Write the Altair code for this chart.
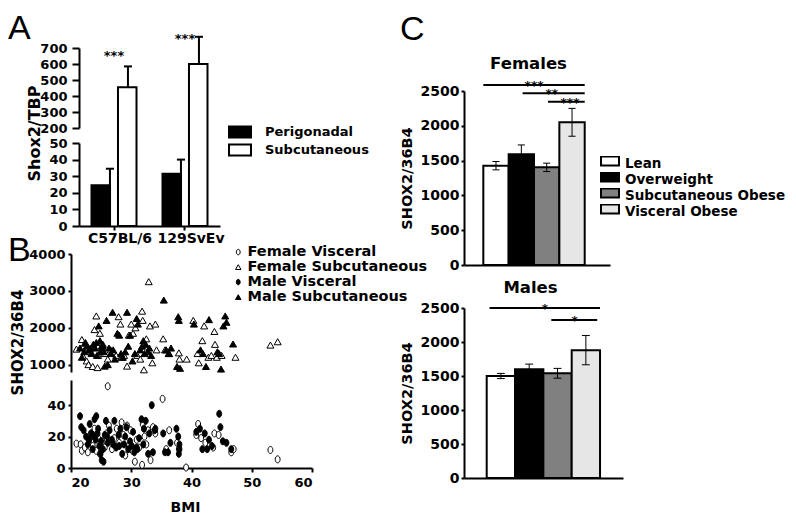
import altair as alt
import pandas as pd

W, H = 780, 509
FONT = "DejaVu Sans"

# ---------------- Panel A data ----------------
a_strains = ["C57BL/6", "129SvEv"]
a_tissues = ["Perigonadal", "Subcutaneous"]
a_perig_mean = [24.5, 31.5]
a_perig_hi = [34.5, 40.0]
a_subq_mean = [455, 600]
a_subq_hi = [585, 770]
a_star_y = [675, 781]
a_star_text = ["***", "***"]

# ---------------- Panel B data ----------------
b_series = ["Female Visceral", "Female Subcutaneous", "Male Visceral", "Male Subcutaneous"]

fv_bmi = [20.9, 21.6, 21.8, 22.3, 22.8, 23.0, 23.3, 23.6, 23.9, 24.2, 24.5, 24.8, 25.2, 25.6, 26.1,
          25.9, 26.3, 26.8, 27.2, 27.6, 28.0, 28.4, 28.7, 29.0, 29.3, 29.6, 29.9, 30.2, 30.6, 30.9,
          31.3, 31.8, 31.9, 32.2, 32.5, 32.8, 33.2, 33.6, 34.0, 35.2, 35.8, 36.3, 37.6, 37.9, 39.1,
          40.8, 41.1, 41.6, 42.3, 43.6, 43.8, 44.5, 46.6, 47.0, 53.1, 54.3]
fv_val = [15.5, 15, 11, 13, 10, 17, 22, 14, 25, 11, 19, 9, 17, 13, 52,
          22, 27, 12, 19, 25, 16, 29, 21, 8, 27, 14, 24, 11, 4, 18,
          13, 2, 28, 20, 15, 24, 5, 26, 22, 44, 12, 24, 16, 12, 0.3,
          21, 28, 19, 16, 13, 22, 21, 10, 12, 11.5, 5.5]

mv_bmi = [21.5, 21.7, 22.1, 22.5, 22.8, 23.1, 23.4, 23.6, 23.9, 24.2, 24.1, 24.5, 24.7, 24.9, 25.1,
          25.4, 25.6, 25.8, 26.1, 26.4, 26.8, 27.2, 27.5, 27.9, 28.2, 28.5, 28.8, 29.2, 29.5, 29.8,
          30.1, 30.5, 30.9, 31.3, 31.7, 32.1, 32.4, 32.8, 33.4, 33.6, 33.9, 35.3, 35.6, 36.1, 36.5,
          37.5, 37.8, 37.9, 38.0, 40.8, 41.4, 41.8, 42.2, 42.6, 42.9, 43.4, 44.6, 44.8, 45.2, 45.8,
          46.6, 23.0, 23.8, 24.4, 25.0, 25.3, 26.0, 27.0, 28.0, 29.0, 30.3, 31.0, 32.0, 33.0, 34.0, 38.0]
mv_val = [33, 26, 24, 20, 15, 28, 22, 12, 31, 33, 18, 25, 14, 9, 5,
          4, 21, 30, 16, 24, 18, 30, 13, 21, 25, 9, 15, 26, 12, 17,
          14, 10, 13, 19, 31, 25, 30, 9, 40, 10, 24, 22, 10, 10, 16,
          25, 20, 9, 12, 23, 25, 12, 22, 12, 18, 14, 34.5, 26, 17, 16,
          12, 18, 20, 22, 17, 12, 20, 15, 14, 20, 23, 12, 15, 22, 25, 15]

fs_bmi = [20.9, 21.8, 22.0, 22.3, 22.6, 22.9, 23.3, 23.6, 23.9, 24.2, 24.5, 24.4, 24.8, 25.2, 25.6,
          26.1, 26.6, 27.0, 27.5, 27.9, 28.2, 28.4, 28.8, 29.3, 29.6, 30.0, 30.3, 30.7, 31.0, 31.5,
          31.8, 31.9, 32.1, 32.5, 32.9, 33.1, 33.5, 34.0, 34.2, 35.3, 35.6, 36.3, 37.9, 38.0, 39.2,
          40.3, 41.0, 41.2, 41.8, 42.1, 42.8, 43.3, 43.8, 43.9, 44.2, 45.0, 47.3, 53.1, 54.3]
fs_val = [1420, 1680, 1230, 1580, 1100, 1000, 1350, 950, 1950, 2320, 1250, 920, 1850, 1500, 1300,
          1150, 1400, 1350, 1250, 2300, 2100, 1200, 1250, 960, 1800, 2100, 1850, 2000, 1250, 1150,
          2450, 2200, 860, 1700, 3250, 2050, 1050, 2100, 1400, 1700, 1400, 1300, 1320, 1150, 1150,
          2200, 1300, 1050, 1650, 2050, 1200, 1250, 1900, 1550, 1200, 1250, 1200, 1530, 1620]

ms_bmi = [21.5, 21.8, 22.2, 22.6, 23.0, 23.4, 23.7, 24.0, 24.3, 24.6, 24.8, 25.1, 25.4, 25.6, 25.9,
          26.1, 26.6, 26.9, 27.3, 27.7, 28.0, 28.3, 28.6, 29.0, 29.3, 29.5, 29.8, 30.2, 30.6, 30.9,
          31.1, 31.5, 32.0, 32.4, 32.8, 33.0, 33.3, 35.4, 35.8, 36.2, 36.6, 37.8, 37.9, 37.6, 38.1,
          40.4, 41.5, 41.9, 42.4, 42.9, 44.3, 44.6, 44.9, 45.3, 45.6, 45.8, 46.9,
          22.4, 23.2, 24.2, 24.9, 25.3, 26.3, 27.0, 31.8, 32.2]
ms_val = [1450, 1200, 1350, 1500, 1400, 1300, 1550, 1450, 1250, 2050, 1650, 1500, 1350, 960, 2200,
          1000, 1300, 2420, 1150, 1850, 1800, 1300, 1200, 1350, 2420, 1500, 1800, 1100, 1300, 2250,
          2100, 1400, 1650, 1550, 1350, 1450, 1250, 2750, 1400, 1300, 1450, 2300, 2200, 950, 900,
          2100, 1400, 1300, 950, 2220, 1350, 1300, 880, 2050, 2320, 2150, 1560,
          1600, 1450, 1600, 1350, 1550, 1450, 1400, 1500, 1300]

# ---------------- Panel C data ----------------
c_groups = ["Lean", "Overweight", "Subcutaneous Obese", "Visceral Obese"]
f_mean = [1427, 1590, 1403, 2050]
f_err = [60, 135, 60, 200]
m_mean = [1500, 1600, 1540, 1880]
m_err = [38, 75, 72, 215]
# significance comparisons: (from group, to group, stars, line level)
f_sig = [("Lean", "Visceral Obese", "***", 2587),
         ("Overweight", "Visceral Obese", "**", 2467),
         ("Subcutaneous Obese", "Visceral Obese", "***", 2347)]
m_sig = [("Lean", "Visceral Obese", "*", 2500),
         ("Subcutaneous Obese", "Visceral Obese", "*", 2323)]
panel_letters = ["A", "B", "C"]

# ---------------- helpers ----------------
def axis(orient, offset, **kw):
    base = dict(orient=orient, offset=offset, grid=False, domainColor="black", domainWidth=2,
                tickColor="black", tickWidth=2, labelFont=FONT, labelFontWeight="bold",
                labelColor="black", titleFont=FONT, titleFontWeight="bold", titleColor="black")
    base.update(kw)
    return alt.Axis(**base)

def lin(domain, rng):
    return alt.Scale(domain=domain, range=rng, nice=False, zero=False)

layers = []

# ---------------- Panel A ----------------
a_bar_df = pd.DataFrame({
    "strain": a_strains + a_strains,
    "tissue": [a_tissues[0]] * 2 + [a_tissues[1]] * 2,
    "mean": a_perig_mean + a_subq_mean,
})
a_perig_df = pd.DataFrame({"strain": a_strains, "mean": a_perig_mean, "hi": a_perig_hi})
a_subq_df = pd.DataFrame({"strain": a_strains, "mean": a_subq_mean, "hi": a_subq_hi})
a_star_df = pd.DataFrame({"strain": a_strains, "y": a_star_y, "t": a_star_text})

ax_sc = alt.Scale(type="band", domain=a_strains, range=[71, 212], paddingInner=0.366, paddingOuter=0.176)
a_low_y = [0, 50]
a_low_r = [218, 135]
a_up_y = [200, 700]
a_up_r = [120, 40]

a_leg = alt.Legend(orient="none", legendX=220, legendY=115, title=None,
                   symbolType="M-1,-0.5H1V0.5H-1Z", symbolSize=484,
                   symbolStrokeColor="black", symbolStrokeWidth=2,
                   labelFont=FONT, labelFontWeight="bold", labelColor="black",
                   labelFontSize=13, labelOffset=13, clipHeight=18, rowPadding=0, padding=0)

layers.append(alt.Chart(a_bar_df).mark_bar(stroke="black", strokeWidth=2).encode(
    x=alt.X("strain:N", scale=ax_sc,
            axis=axis("bottom", 218 - H, title="", labelAngle=0, tickSize=4, labelPadding=1,
                      labelOffset=6, labelFontSize=14)),
    xOffset=alt.XOffset("tissue:N", scale=alt.Scale(domain=a_tissues, paddingInner=0.3, paddingOuter=0)),
    y=alt.Y("mean:Q", scale=lin([0, 50, 200, 700], [218, 135, 120, 40]), axis=None),
    y2=alt.datum(0),
    fill=alt.Fill("tissue:N", scale=alt.Scale(domain=a_tissues, range=["black", "white"]), legend=a_leg),
))


def a_errbars(df, bp, ydom, yrng, yaxis):
    out = [alt.Chart(df).mark_rule(color="black", strokeWidth=2).encode(
        x=alt.X("strain:N", scale=ax_sc, bandPosition=bp, axis=None),
        y=alt.Y("mean:Q", scale=lin(ydom, yrng), axis=yaxis),
        y2="hi:Q",
    )]
    out.append(alt.Chart(df).mark_rule(color="black", strokeWidth=2).encode(
        x=alt.X("strain:N", scale=ax_sc, bandPosition=bp - 0.09, axis=None),
        x2=alt.X2("strain:N", bandPosition=bp + 0.09),
        y=alt.Y("hi:Q", scale=lin(ydom, yrng), axis=None),
    ))
    return out


layers += a_errbars(a_perig_df, 0.41, a_low_y, a_low_r,
                    axis("left", -71, values=[0, 10, 20, 30, 40, 50], format="d", title="Shox2/TBP",
                         titleX=-37, titleY=125, titleFontSize=16, labelFontSize=13, tickSize=7,
                         labelPadding=5))
layers += a_errbars(a_subq_df, 0.81, a_up_y, a_up_r,
                    axis("left", -71, values=[200, 300, 400, 500, 600, 700], format="d", title="",
                         labelFontSize=13, tickSize=7, labelPadding=5))
layers.append(alt.Chart(a_star_df).mark_text(font=FONT, fontWeight="bold", fontSize=13,
                                            baseline="middle", dy=4, fill="black").encode(
    x=alt.X("strain:N", scale=ax_sc, axis=None),
    y=alt.Y("y:Q", scale=lin(a_up_y, a_up_r), axis=None),
    text="t:N",
))

# ---------------- Panel B ----------------
ELL = "M0,-1A0.7,1,0,1,1,0,1A0.7,1,0,1,1,0,-1Z"
b_shape = alt.Scale(domain=b_series, range=[ELL, "triangle-up", ELL, "triangle-up"])
b_fill = alt.Scale(domain=b_series, range=["white", "white", "black", "black"])
bx_sc = lin([20, 60], [63, 304])

b_up_df = pd.DataFrame({
    "bmi": fs_bmi + ms_bmi, "val": fs_val + ms_val,
    "series": [b_series[1]] * len(fs_bmi) + [b_series[3]] * len(ms_bmi),
})
b_low_df = pd.DataFrame({
    "bmi": fv_bmi + mv_bmi, "val": fv_val + mv_val,
    "series": [b_series[0]] * len(fv_bmi) + [b_series[2]] * len(mv_bmi),
})

b_leg = alt.Legend(orient="none", legendX=223, legendY=237, title=None, symbolSize=30,
                   symbolStrokeWidth=1,
                   labelFont=FONT, labelFontWeight="bold", labelColor="black",
                   labelFontSize=14.5, labelOffset=2, clipHeight=14.2, rowPadding=-2.8, padding=0,
                   labelLimit=400)

layers.append(alt.Chart(b_up_df).mark_point(filled=True, stroke="black", strokeWidth=1, size=49, opacity=1).encode(
    x=alt.X("bmi:Q", scale=bx_sc, axis=None),
    y=alt.Y("val:Q", scale=lin([800, 4000], [364, 246]),
            axis=axis("left", -63, values=[1000, 2000, 3000, 4000], format="d", title="",
                      labelFontSize=13, tickSize=3, labelPadding=3)),
    shape=alt.Shape("series:N", scale=b_shape, legend=b_leg),
    fill=alt.Fill("series:N", scale=b_fill, legend=b_leg),
))
layers.append(alt.Chart(b_low_df).mark_point(filled=True, stroke="black", strokeWidth=1, size=49, opacity=1).encode(
    x=alt.X("bmi:Q", scale=bx_sc,
            axis=axis("bottom", 460 - H, values=[20, 30, 40, 50, 60], format="d", title="BMI",
                      titleX=177, titleY=39, titleBaseline="middle", titleFontSize=14,
                      labelFontSize=13, tickSize=4, labelPadding=4)),
    y=alt.Y("val:Q", scale=lin([0, 56], [460, 372]),
            axis=axis("left", -63, values=[0, 20, 40], format="d", title="SHOX2/36B4",
                      titleX=-46, titleY=334, titleFontSize=15,
                      labelFontSize=13, tickSize=3, labelPadding=3)),
    shape=alt.Shape("series:N", scale=b_shape, legend=None),
    fill=alt.Fill("series:N", scale=b_fill, legend=None),
))

# ---------------- Panel C ----------------
c_fill = alt.Scale(domain=c_groups, range=["white", "black", "#808080", "#e6e6e6"])
c_leg = alt.Legend(orient="none", legendX=592, legendY=148, title=None,
                   symbolType="M-1,-0.83H1V0.17H-1Z", symbolSize=324,
                   symbolStrokeColor="black", symbolStrokeWidth=2,
                   labelFont=FONT, labelFontWeight="bold", labelColor="black",
                   labelFontSize=13.5, labelOffset=5, clipHeight=15.7, rowPadding=-2.8, padding=0,
                   labelLimit=400)


def c_panel(mean, err, sigs, xsc, y_rng, title, title_xy, sig_layout, legend):
    axis_y = y_rng[0]
    ysc = lin([0, 2500], y_rng)
    bar_df = pd.DataFrame({"g": c_groups, "mean": mean})
    lo = [m - e for m, e in zip(mean, err)]
    hi = [m + e for m, e in zip(mean, err)]
    err_df = pd.DataFrame({"g": c_groups, "lo": lo, "hi": hi})
    cap_df = pd.DataFrame({"g": c_groups + c_groups, "v": lo + hi})
    out = []
    out.append(alt.Chart(bar_df).mark_bar(stroke="black", strokeWidth=2).encode(
        x=alt.X("g:N", scale=xsc,
                axis=axis("bottom", axis_y - H, labels=False, ticks=False, title=title,
                          titleX=title_xy[0], titleY=title_xy[1] - axis_y, titleBaseline="middle",
                          titleFontSize=16.5)),
        y=alt.Y("mean:Q", scale=ysc,
                axis=axis("left", -456, values=[0, 500, 1000, 1500, 2000, 2500], format="d",
                          title="SHOX2/36B4", titleFontSize=14.5, labelFontSize=14, tickSize=3,
                          labelPadding=2, titlePadding=6)),
        y2=alt.datum(0),
        fill=alt.Fill("g:N", scale=c_fill, legend=legend),
    ))
    out.append(alt.Chart(err_df).mark_rule(color="black", strokeWidth=1).encode(
        x=alt.X("g:N", scale=xsc, axis=None),
        y=alt.Y("lo:Q", scale=ysc, axis=None),
        y2="hi:Q",
    ))
    out.append(alt.Chart(cap_df).mark_rule(color="black", strokeWidth=1).encode(
        x=alt.X("g:N", scale=xsc, bandPosition=0.36, axis=None),
        x2=alt.X2("g:N", bandPosition=0.64),
        y=alt.Y("v:Q", scale=ysc, axis=None),
    ))
    for (frm, to, stars, lvl), (fp, tp, lab, lp) in zip(sigs, sig_layout):
        sdf = pd.DataFrame({"frm": [frm], "to": [to], "stars": [stars], "y": [lvl], "lab": [lab]})
        out.append(alt.Chart(sdf).mark_rule(color="black", strokeWidth=2).encode(
            x=alt.X("frm:N", scale=xsc, bandPosition=fp, axis=None),
            x2=alt.X2("to:N", bandPosition=tp),
            y=alt.Y("y:Q", scale=ysc, axis=None),
        ))
        out.append(alt.Chart(sdf).mark_text(font=FONT, fontWeight="bold", fontSize=12,
                                            baseline="alphabetic", dy=5, fill="black").encode(
            x=alt.X("lab:N", scale=xsc, bandPosition=lp, axis=None),
            y=alt.Y("y:Q", scale=ysc, axis=None),
            text="stars:N",
        ))
    return out


cf_x = alt.Scale(type="band", domain=c_groups, range=[456, 602], paddingInner=0, paddingOuter=0.88, align=0.433)
cm_x = alt.Scale(type="band", domain=c_groups, range=[456, 615], paddingInner=0, paddingOuter=0.806, align=0.497)

layers += c_panel(f_mean, f_err, f_sig, cf_x, [257, 83], "Females", (520, 55),
                  [(0.0, 1.0, "Overweight", 1.0),
                   (0.55, 1.0, "Subcutaneous Obese", 0.7),
                   (0.55, 1.0, "Visceral Obese", 0.42)], c_leg)
layers += c_panel(m_mean, m_err, m_sig, cm_x, [470, 300], "Males", (522, 279),
                  [(0.1, 1.0, "Subcutaneous Obese", 0.05),
                   (0.28, 0.9, "Visceral Obese", 0.1)], None)

# ---------------- panel letters ----------------
letter_pos = [(0, 31), (0, 253), (392, 32)]
for letter, (lx, ly) in zip(panel_letters, letter_pos):
    layers.append(alt.Chart(pd.DataFrame({"t": [letter]})).mark_text(
        font="Liberation Sans", fontSize=34, align="left", baseline="alphabetic", fill="black").encode(
        x=alt.value(lx), y=alt.value(ly), text="t:N"))

chart = alt.layer(*layers).resolve_scale(
    x="independent", y="independent", fill="independent", shape="independent"
).properties(
    width=W, height=H, autosize=alt.AutoSizeParams(type="none"), padding=0
).configure_view(strokeWidth=0)

chart.save("out.html", embed_options={"renderer": "svg", "actions": False})
